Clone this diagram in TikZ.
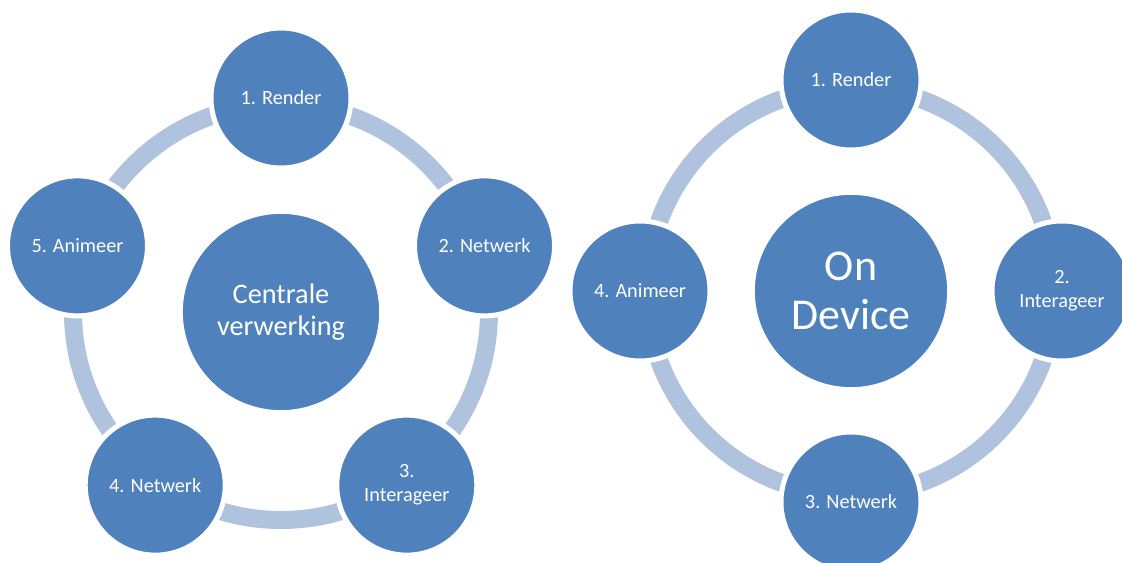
\documentclass[tikz,border=0pt]{standalone}
\usepackage{fontspec}
\setmainfont{Carlito}
\usepackage{tikz}
\usetikzlibrary{calc}
\definecolor{cycleblue}{HTML}{4F81BD}
\definecolor{ringblue}{HTML}{B0C3DE}

\begin{document}
\begin{tikzpicture}[
  x=0.75pt,y=0.75pt,
  hub/.style={circle,draw=white,line width=3.75pt,fill=cycleblue,text=white,align=center,inner sep=0pt},
  sat/.style={hub,minimum size=105pt,font=\fontsize{15.2}{18}\selectfont},
  ring/.style={draw=ringblue,line width=13.5pt}
]
\clip (0,0) rectangle (1122,562);
% links: centrale verwerking
\node[hub,minimum size=151pt,font=\fontsize{21.2}{24}\selectfont] (cv) at (281,250) {Centrale\\verwerking};
\draw[ring] (cv) circle[radius=156pt];
\node[sat] (l1) at ($(cv)+(90:214)$) {1. Render};
\node[sat] (l2) at ($(cv)+(18:214)$) {2. Netwerk};
\node[sat] (l3) at ($(cv)+(-54:214)$) {3.\\Interageer};
\node[sat] (l4) at ($(cv)+(-126:214)$) {4. Netwerk};
\node[sat] (l5) at ($(cv)+(162:214)$) {5. Animeer};
% rechts: on device
\node[hub,minimum size=148pt,font=\fontsize{33}{36.75}\selectfont] (od) at (851,271) {On\\Device};
\draw[ring] (od) circle[radius=153pt];
\node[sat] (r1) at ($(od)+(90:211)$) {1. Render};
\node[sat] (r2) at ($(od)+(0:211)$) {2.\\Interageer};
\node[sat] (r3) at ($(od)+(270:211)$) {3. Netwerk};
\node[sat] (r4) at ($(od)+(180:211)$) {4. Animeer};
\end{tikzpicture}
\end{document}
